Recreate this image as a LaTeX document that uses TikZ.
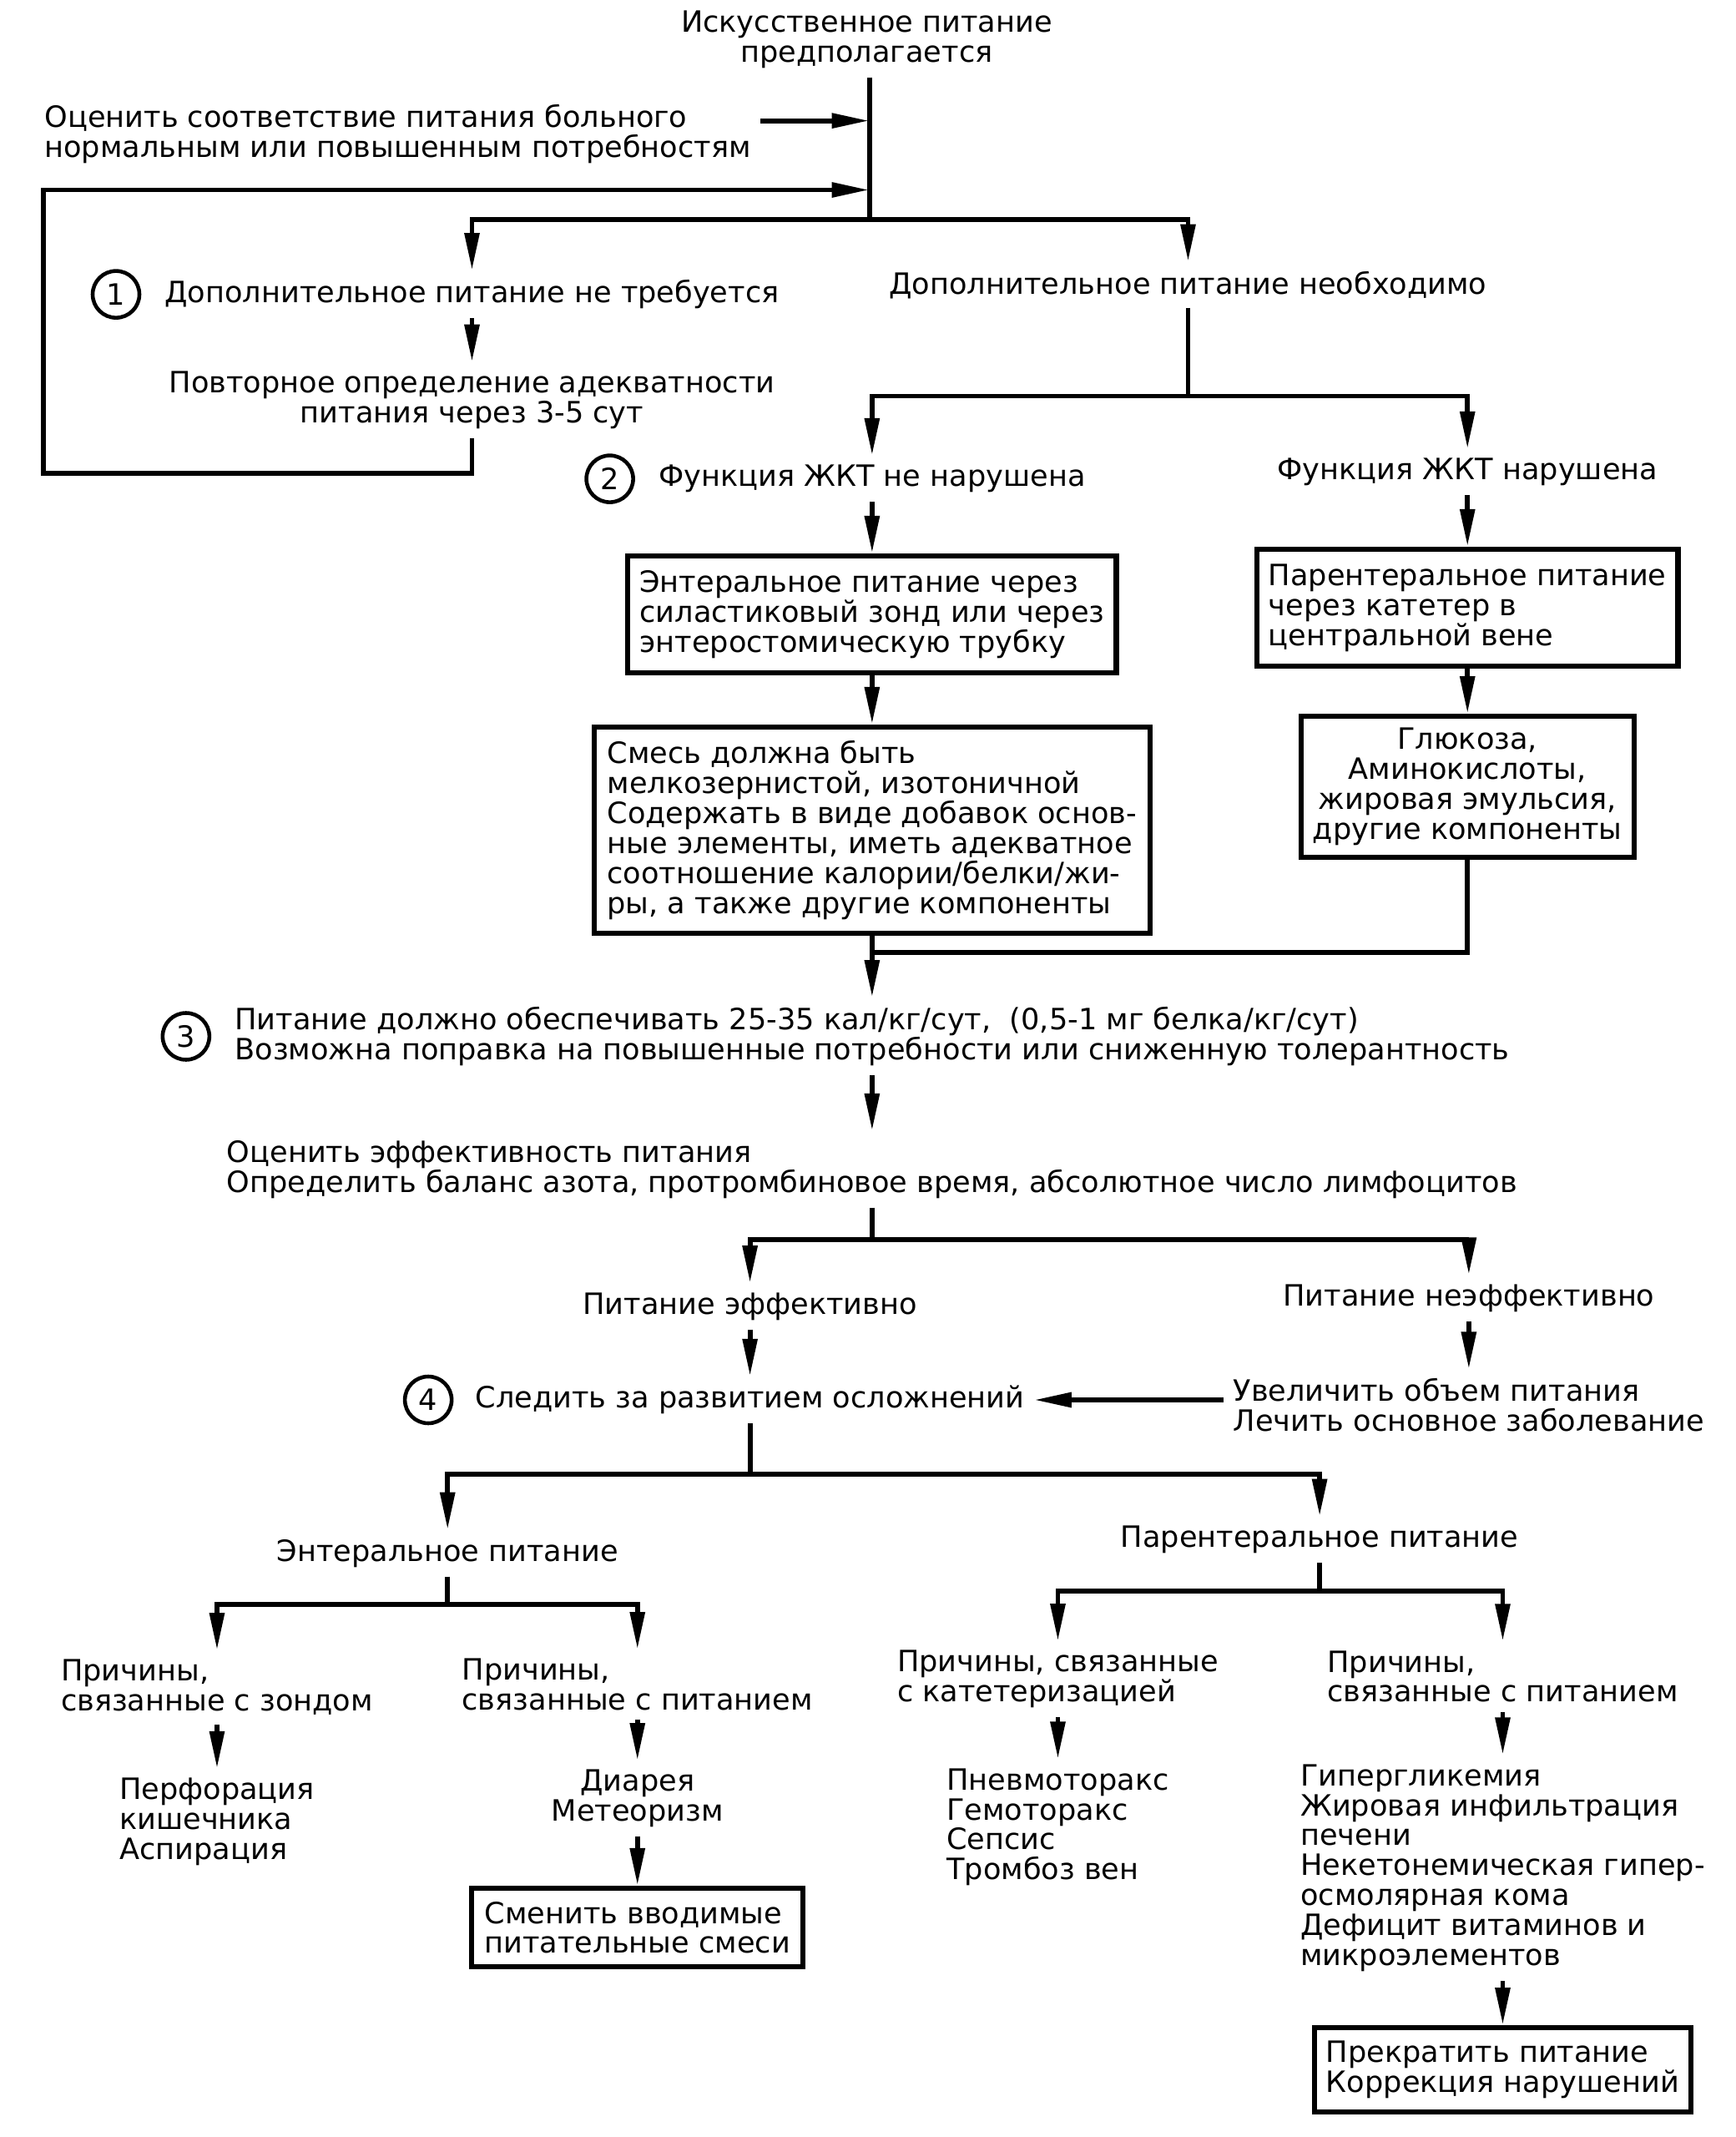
\documentclass[tikz,border=0pt]{standalone}
\usepackage{fontspec}
\setmainfont{DejaVu Sans}
\usetikzlibrary{arrows.meta,positioning}

\begin{document}
\begin{tikzpicture}[
        x=0.01625cm, y=-0.01625cm,
        txt/.style={
            inner sep=3pt,
            align=left,
            font=\fontsize{10}{10.2}\selectfont
        },
        box/.style={
            rectangle,
            draw,
            line width=1.8pt,
            inner sep=4pt,
            align=left,
            font=\fontsize{10}{10.2}\selectfont
        },
        num/.style={
            circle,
            draw,
            line width=1.3pt,
            minimum size=0.56cm,
            inner sep=0pt,
            font=\fontsize{10}{10.2}\selectfont
        },
        link/.style={
            line width=1.7pt
        },
        arrow/.style={
            line width=1.7pt,
            -{Triangle[length=0.45cm, width=0.17cm]}
        }
    ]
    \useasboundingbox (0,-5) rectangle (1280,1570.4);

    % start and first decision
    \node[txt, align=center] (top) at (639, 24) {Искусственное питание\\предполагается};
    \node[txt, anchor=west] (assess) at (26, 94) {Оценить соответствие питания больного\\нормальным или повышенным потребностям};
    \coordinate (in1) at (641, 84);
    \coordinate (in2) at (641, 135);
    \coordinate (fork1) at (641, 157);

    \node[txt] (noneed) at (348, 212) {Дополнительное питание не требуется};
    \node[num, left=0.17cm of noneed] (c1) {1};
    \node[txt, align=center] (recheck) at (348, 290) {Повторное определение адекватности\\питания через 3-5 сут};
    \coordinate (loopL) at (32, 344);
    \node[txt] (need) at (876, 205) {Дополнительное питание необходимо};
    \coordinate (fork2) at (876, 287);

    % gut function branches
    \node[txt] (gut) at (643, 348) {Функция ЖКТ не нарушена};
    \node[num, left=0.17cm of gut] (c2) {2};
    \node[txt] (nogut) at (1082, 343) {Функция ЖКТ нарушена};

    \node[box, minimum width=5.83cm, minimum height=1.4cm] (enteral) at (643, 448) {Энтеральное питание через\\силастиковый зонд или через\\энтеростомическую трубку};
    \node[box, minimum width=6.66cm, minimum height=2.47cm] (mix) at (643, 607) {Смесь должна быть\\мелкозернистой, изотоничной\\Содержать в виде добавок основ-\\ные элементы, иметь адекватное\\соотношение калории/белки/жи-\\ры, а также другие компоненты};
    \node[box, minimum width=5.0cm, minimum height=1.4cm] (parent) at (1082, 443) {Парентеральное питание\\через катетер в\\центральной вене};
    \node[box, align=center, minimum width=3.88cm, minimum height=1.64cm] (comp) at (1082, 575) {Глюкоза,\\Аминокислоты,\\жировая эмульсия,\\другие компоненты};
    \coordinate (merge) at (643, 697);

    % amount and evaluation
    \node[txt] (diet) at (643, 759) {Питание должно обеспечивать 25-35 кал/кг/сут,~~(0,5-1 мг белка/кг/сут)\\Возможна поправка на повышенные потребности или сниженную толерантность};
    \node[num, left=0.17cm of diet] (c3) {3};
    \node[txt] (evalu) at (643, 857) {Оценить эффективность питания\\Определить баланс азота, протромбиновое время, абсолютное число лимфоцитов};
    \coordinate (fork3) at (643, 909);

    \node[txt] (eff) at (553, 958) {Питание эффективно};
    \node[txt] (ineff) at (1083, 952) {Питание неэффективно};
    \node[txt] (watch) at (553, 1027) {Следить за развитием осложнений};
    \node[num, left=0.15cm of watch] (c4) {4};
    \node[txt] (action) at (1083, 1031) {Увеличить объем питания\\Лечить основное заболевание};
    \coordinate (fork4) at (553, 1082);

    % complications
    \node[txt] (entp) at (330, 1140) {Энтеральное питание};
    \node[txt] (parp) at (973, 1130) {Парентеральное питание};
    \coordinate (fork5) at (330, 1178);
    \coordinate (fork6) at (973, 1168);

    \node[txt] (tube) at (160, 1239) {Причины,\\связанные с зондом};
    \node[txt] (feedL) at (470, 1237) {Причины,\\связанные с питанием};
    \node[txt] (cath) at (780, 1233) {Причины, связанные\\с катетеризацией};
    \node[txt] (feedR) at (1108, 1231) {Причины,\\связанные с питанием};

    \node[txt] (perf) at (160, 1338) {Перфорация\\кишечника\\Аспирация};
    \node[txt, align=center] (diarr) at (470, 1321) {Диарея\\Метеоризм};
    \node[box, minimum width=3.97cm, minimum height=0.94cm] (change) at (470, 1416) {Сменить вводимые\\питательные смеси};
    \node[txt] (pneu) at (780, 1342) {Пневмоторакс\\Гемоторакс\\Сепсис\\Тромбоз вен};
    \node[txt] (hyper) at (1108, 1372) {Гипергликемия\\Жировая инфильтрация\\печени\\Некетонемическая гипер-\\осмолярная кома\\Дефицит витаминов и\\микроэлементов};
    \node[box, minimum width=4.47cm, minimum height=1.01cm] (stop) at (1108, 1521) {Прекратить питание\\Коррекция нарушений};

    % connections
    \draw[link] (top.south -| fork1) -- (fork1);
    \draw[arrow] (assess.east |- in1) -- (in1);
    \draw[arrow] (recheck) |- (loopL) |- (in2);
    \draw[arrow] (fork1) -| (noneed);
    \draw[arrow] (fork1) -| (need);
    \draw[arrow] (noneed) -- (recheck);
    \draw[link] (need) -- (fork2);
    \draw[arrow] (fork2) -| (gut);
    \draw[arrow] (fork2) -| (nogut);
    \draw[arrow] (gut) -- (enteral);
    \draw[arrow] (enteral) -- (mix);
    \draw[arrow] (nogut) -- (parent);
    \draw[arrow] (parent) -- (comp);
    \draw[link] (comp) |- (merge);
    \draw[arrow] (mix) -- (diet);
    \draw[arrow] (diet) -- (evalu);
    \draw[link] (evalu) -- (fork3);
    \draw[arrow] (fork3) -| (eff);
    \draw[arrow] (fork3) -| (ineff);
    \draw[arrow] (eff) -- (watch);
    \draw[arrow] (ineff) -- (action);
    \draw[arrow] (action.west |- watch) -- (watch);
    \draw[link] (watch) -- (fork4);
    \draw[arrow] (fork4) -| (entp);
    \draw[arrow] (fork4) -| (parp);
    \draw[link] (entp) -- (fork5);
    \draw[arrow] (fork5) -| (tube);
    \draw[arrow] (fork5) -| (feedL);
    \draw[link] (parp) -- (fork6);
    \draw[arrow] (fork6) -| (cath);
    \draw[arrow] (fork6) -| (feedR);
    \draw[arrow] (tube) -- (perf);
    \draw[arrow] (feedL) -- (diarr);
    \draw[arrow] (diarr) -- (change);
    \draw[arrow] (cath) -- (pneu);
    \draw[arrow] (feedR) -- (hyper);
    \draw[arrow] (hyper) -- (stop);

\end{tikzpicture}
\end{document}
